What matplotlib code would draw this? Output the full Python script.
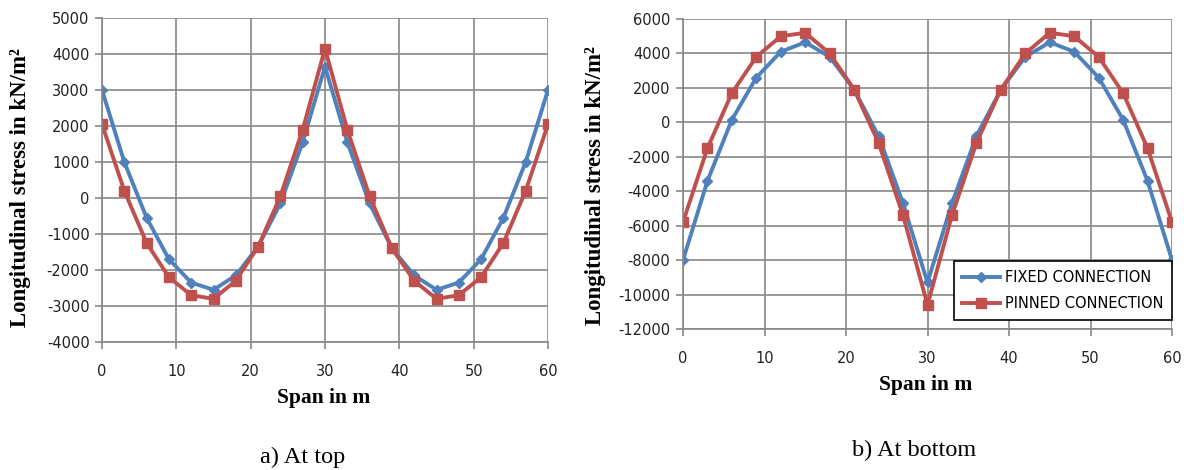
import numpy as np
import matplotlib.pyplot as plt

plt.rcParams['axes.unicode_minus'] = False

span = np.arange(0, 61, 3)

# stress at top of section (kN/m2)
top_fixed = [3000, 1000, -550, -1700, -2350, -2550, -2150, -1350, -150, 1550, 3650,
             1550, -150, -1400, -2150, -2550, -2350, -1700, -550, 1000, 3000]
top_pinned = [2050, 200, -1250, -2200, -2700, -2800, -2300, -1350, 50, 1900, 4150,
              1900, 50, -1400, -2300, -2800, -2700, -2200, -1250, 200, 2050]

# stress at bottom of section (kN/m2)
bot_fixed = [-8000, -3400, 150, 2600, 4100, 4650, 3800, 1900, -800, -4700, -9300,
             -4700, -800, 1900, 3800, 4650, 4100, 2600, 150, -3400, -8000]
bot_pinned = [-5800, -1500, 1700, 3800, 5000, 5200, 4000, 1900, -1200, -5400, -10600,
              -5400, -1200, 1900, 4000, 5200, 5000, 3800, 1700, -1500, -5800]

BLUE = '#4F81BD'
RED = '#C0504D'
GRID = '#878787'
serif = 'Liberation Serif'
tickfont = 'DejaVu Sans'

W, H = 1184, 470
fig = plt.figure(figsize=(W / 100, H / 100), dpi=100)


def px_axes(x0, x1, y0, y1):
    return fig.add_axes([x0 / W, 1 - y1 / H, (x1 - x0) / W, (y1 - y0) / H])


ax1 = px_axes(102, 548, 18, 342)
ax2 = px_axes(683, 1172, 19, 329)


def style(ax, ylim, ystep):
    ax.set_xlim(0, 60)
    ax.set_ylim(*ylim)
    ax.set_xticks(range(0, 61, 10))
    ax.set_yticks(range(ylim[0], ylim[1] + 1, ystep))
    ax.grid(True, color=GRID, lw=1.2)
    for s in ax.spines.values():
        s.set_color(GRID)
        s.set_linewidth(1.2)
    ax.spines['top'].set_visible(False)
    ax.spines['right'].set_visible(False)
    ax.tick_params(length=5, width=1.2, color=GRID, labelsize=10.5,
                   labelcolor='#222222')
    ax.tick_params(axis='x', pad=11)
    ax.tick_params(axis='y', pad=4)
    for lab in ax.get_xticklabels() + ax.get_yticklabels():
        lab.set_family(tickfont)
    ax.set_axisbelow(True)


ax1.plot(span, top_fixed, color=BLUE, lw=2.8, marker='D', ms=5.5, label='FIXED CONNECTION')
ax1.plot(span, top_pinned, color=RED, lw=2.8, marker='s', ms=6.5, label='PINNED CONNECTION')
style(ax1, (-4000, 5000), 1000)

ax2.plot(span, bot_fixed, color=BLUE, lw=2.8, marker='D', ms=5.5, label='FIXED CONNECTION')
ax2.plot(span, bot_pinned, color=RED, lw=2.8, marker='s', ms=6.5, label='PINNED CONNECTION')
style(ax2, (-12000, 6000), 2000)

leg = ax2.legend(loc='lower right', bbox_to_anchor=(1.0, 0.03), borderaxespad=0,
                 fancybox=False, edgecolor='black', framealpha=1, handlelength=2.6,
                 handletextpad=0.3, borderpad=0.6, labelspacing=0.75,
                 prop={'family': tickfont, 'size': 10.5})
leg.get_frame().set_linewidth(1.2)

# axis titles placed in pixel positions
ylab = 'Longitudinal stress in kN/m\u00b2'
fig.text(21 / W, 1 - 188 / H, ylab, family=serif, fontweight='bold', fontsize=16.5,
         rotation=90, ha='center', va='center')
fig.text(596 / W, 1 - 186 / H, ylab, family=serif, fontweight='bold', fontsize=16.5,
         rotation=90, ha='center', va='center')
fig.text(324 / W, 1 - 398 / H, 'Span in m', family=serif, fontweight='bold',
         fontsize=15.5, ha='center', va='center')
fig.text(926 / W, 1 - 385 / H, 'Span in m', family=serif, fontweight='bold',
         fontsize=15.5, ha='center', va='center')

fig.text(303 / W, 1 - 457 / H, 'a) At top', family=serif, fontsize=17.5,
         ha='center', va='center')
fig.text(914 / W, 1 - 450 / H, 'b) At bottom', family=serif, fontsize=17.5,
         ha='center', va='center')

fig.savefig('out.png', dpi=100)
